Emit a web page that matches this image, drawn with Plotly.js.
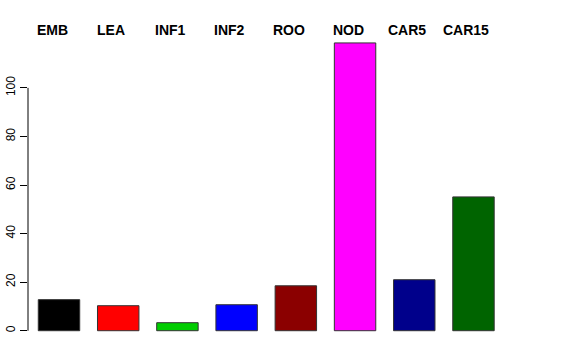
<!DOCTYPE html>
<html><head><meta charset="utf-8">
<script src="https://cdn.plot.ly/plotly-3.0.1.min.js"></script>
<style>body{margin:0;background:#fff}#c{width:576px;height:360px}</style>
</head><body><div id="c"></div>
<script>
const categories = ["EMB","LEA","INF1","INF2","ROO","NOD","CAR5","CAR15"];
const values = [12.8, 10.3, 3.3, 10.7, 18.5, 118.5, 21.0, 55.1];
const colors = ["#000000","#FF0000","#00CD00","#0000FF","#8B0000","#FF00FF","#00008B","#006400"];
const yTicks = [0,20,40,60,80,100];

const xs = categories.map((c,i)=>i);
const trace = {type:'bar', x: xs, y: values, width: 0.7,
  marker:{color: colors, line:{color:'#333333', width:1}}, hoverinfo:'none'};
const annotations = categories.map((c,i)=>({x:i, y:1.0065, xref:'x', yref:'paper', text:c,
  showarrow:false, xshift:-7, yanchor:'middle', xanchor:'center',
  font:{family:'Liberation Sans, Arial, sans-serif', size:14, color:'#000', weight:'bold'}}));
const layout = {
  width:576, height:360, margin:{l:28, r:67, t:32, b:22},
  paper_bgcolor:'#fff', plot_bgcolor:'#fff', showlegend:false,
  xaxis:{range:[-0.5236,7.6], showgrid:false, zeroline:false, showline:false, showticklabels:false, ticks:''},
  yaxis:{range:[-3,123], showgrid:false, zeroline:false, showline:false, tickvals:yTicks,
    ticktext:yTicks.map(String), ticks:'outside', ticklen:7, tickcolor:'#000', tickwidth:1, tickangle:-90,
    tickfont:{family:'Liberation Sans, Arial, sans-serif', size:12, color:'#000'}},
  shapes:[{type:'line', xref:'paper', yref:'y', x0:0, x1:0, y0:0, y1:100, line:{color:'#000', width:1}}],
  annotations: annotations
};
Plotly.newPlot('c',[trace],layout,{staticPlot:true});
</script></body></html>
